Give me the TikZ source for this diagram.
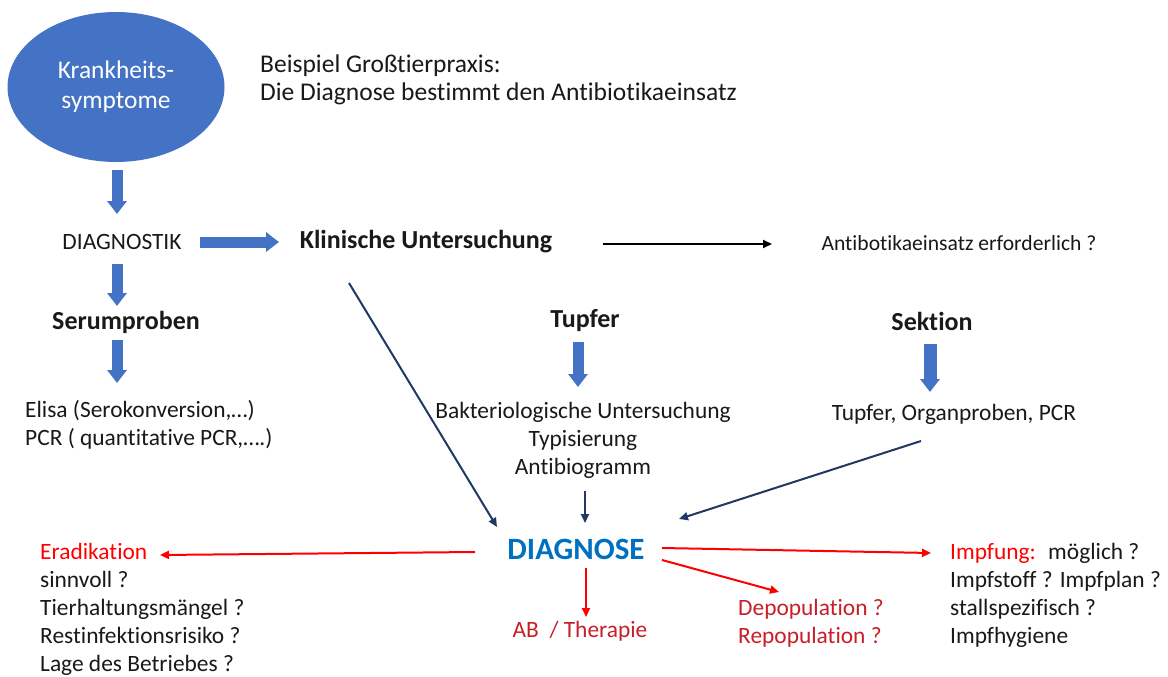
\documentclass[tikz,border=0pt]{standalone}
\usepackage{fontspec}
\setmainfont{Carlito}[Ligatures=NoCommon]
\usetikzlibrary{arrows.meta,shapes.geometric}
\definecolor{blk}{RGB}{25,25,25}
\definecolor{ellblue}{RGB}{68,114,196}
\definecolor{navy}{RGB}{31,56,100}
\definecolor{diagblue}{RGB}{0,112,192}
\definecolor{dred}{RGB}{200,30,40}
\definecolor{bred}{RGB}{255,0,0}
\tikzset{
  txt/.style={inner sep=0pt, text=blk, font=\fontsize{23.4}{28}\selectfont},
  bold/.style={txt, font=\fontsize{26}{28}\selectfont\bfseries},
  fat/.style={draw=ellblue, line width=11pt, -{Triangle[width=19pt,length=13pt]}, shorten >=0pt},
  thin/.style={line width=2pt, -{Triangle[width=8pt,length=9pt]}},
  navyarr/.style={thin, draw=navy},
  redarr/.style={thin, draw=bred},
}
\begin{document}
\begin{tikzpicture}[x=1pt,y=-1pt]
\path[use as bounding box, fill=white] (0,0) rectangle (1168,677);
% ellipse
\node (ell) [ellipse, fill=ellblue, minimum width=217pt, minimum height=150pt, inner sep=0pt, align=center, text=white, font=\fontsize{25.4}{30}\selectfont] at (116,87) {Krankheits-\\symptome};
\node (title) [txt, anchor=west, align=left, font=\fontsize{25.5}{28}\selectfont] at (260,80) {Beispiel Großtierpraxis:\\Die Diagnose bestimmt den Antibiotikaeinsatz};
% row 2
\node (diag) [txt] at (122,242) {DIAGNOSTIK};
\node (klin) [bold] at (426,242) {Klinische Untersuchung};
\node (anti) [txt, font=\fontsize{21.6}{28}\selectfont] at (959,243) {Antibotikaeinsatz erforderlich ?};
% row 3
\node (serum) [bold] at (126,322) {Serumproben};
\node (tupfer) [bold] at (585,321) {Tupfer};
\node (sektion) [bold] at (932,321) {Sektion};
% row 4
\node (elisa) [txt, anchor=west, align=left] at (25,425) {Elisa (Serokonversion,…)\\PCR ( quantitative PCR,….)};
\node (bakt) [txt, align=center] at (583,440) {Bakteriologische Untersuchung\\Typisierung\\Antibiogramm};
\node (organ) [txt] at (954,414) {Tupfer, Organproben, PCR};
% diagnose
\node (dg) [inner sep=0pt, text=diagblue, font=\fontsize{31}{31}\selectfont\bfseries] at (576,549) {DIAGNOSE};
% outcomes
\node (erad) [txt, anchor=west, align=left] at (40,609) {\textcolor{bred}{Eradikation}\\sinnvoll ?\\Tierhaltungsmängel ?\\Restinfektionsrisiko ?\\Lage des Betriebes ?};
\node (ab) [txt, text=dred] at (580,631) {AB~ / Therapie};
\node (depop) [txt, text=dred, anchor=west, align=left] at (738,623) {Depopulation ?\\Repopulation ?};
\node (impf) [txt, anchor=west, align=left] at (950,595) {\textcolor{bred}{Impfung:}~ möglich ?\\Impfstoff ? Impfplan ?\\stallspezifisch ?\\Impfhygiene};
% fat arrows
\coordinate (a1s) at (117,170); \coordinate (a1e) at (117,214);
\coordinate (a2s) at (200,242); \coordinate (a2e) at (279,242);
\coordinate (a3s) at (117,264); \coordinate (a3e) at (117,306);
\coordinate (a4s) at (117,340); \coordinate (a4e) at (117,383);
\coordinate (a5s) at (578,342); \coordinate (a5e) at (578,387);
\coordinate (a6s) at (930,344); \coordinate (a6e) at (930,392);
\draw[fat] (a1s) -- (a1e);
\draw[fat] (a2s) -- (a2e);
\draw[fat] (a3s) -- (a3e);
\draw[fat] (a4s) -- (a4e);
\draw[fat] (a5s) -- (a5e);
\draw[fat, line width=13pt] (a6s) -- (a6e);
% thin black
\coordinate (b1s) at (603,244); \coordinate (b1e) at (772,244);
\draw[thin, draw=black] (b1s) -- (b1e);
% navy
\coordinate (n1s) at (349,283); \coordinate (n1e) at (497,527);
\coordinate (n2s) at (585,491); \coordinate (n2e) at (585,523);
\coordinate (n3s) at (921,441); \coordinate (n3e) at (679,519);
\draw[navyarr] (n1s) -- (n1e);
\draw[navyarr] (n2s) -- (n2e);
\draw[navyarr] (n3s) -- (n3e);
% red
\coordinate (r1s) at (475,552); \coordinate (r1e) at (160,555);
\coordinate (r2s) at (586,568); \coordinate (r2e) at (586,617);
\coordinate (r3s) at (662,560); \coordinate (r3e) at (779,592);
\coordinate (r4s) at (662,548); \coordinate (r4e) at (931,553);
\draw[redarr] (r1s) -- (r1e);
\draw[redarr] (r2s) -- (r2e);
\draw[redarr] (r3s) -- (r3e);
\draw[redarr] (r4s) -- (r4e);
\end{tikzpicture}
\end{document}
